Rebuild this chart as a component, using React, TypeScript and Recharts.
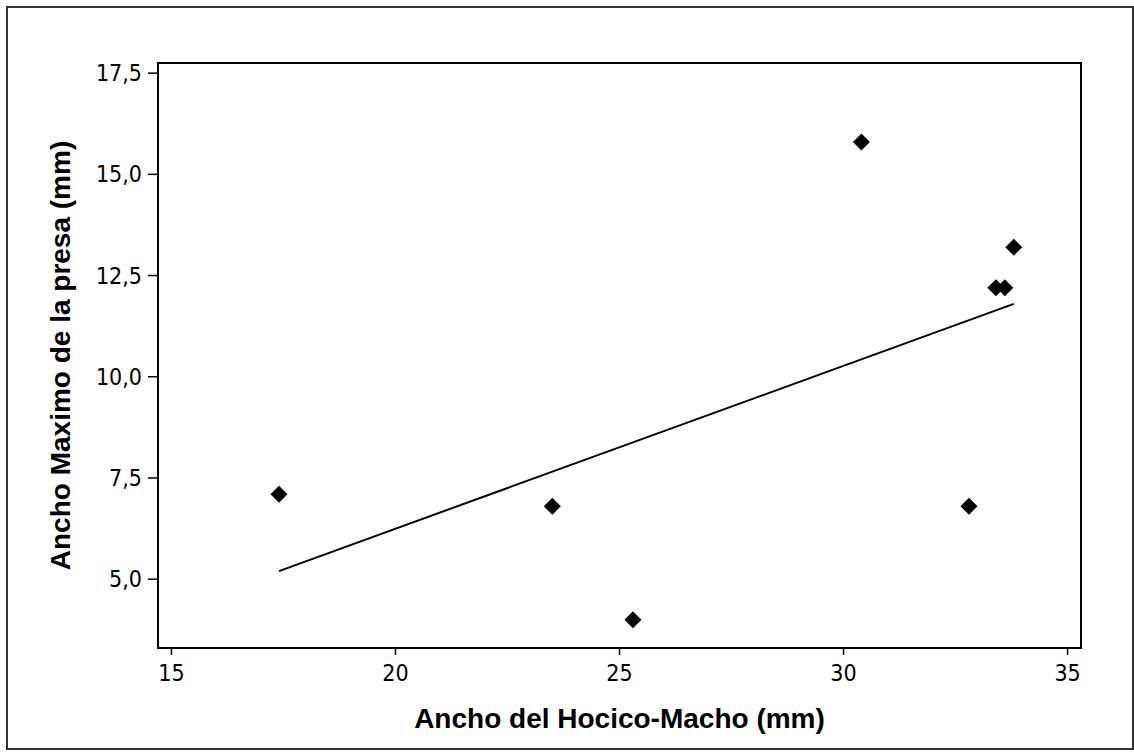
import React from "react";
import {
  ScatterChart,
  Scatter,
  XAxis,
  YAxis,
  ReferenceArea,
  Label,
} from "recharts";

// Ancho del hocico (machos) vs ancho maximo de la presa
const snoutWidth = [17.4, 23.5, 25.3, 30.4, 32.8, 33.4, 33.6, 33.8];
const preyWidth = [7.1, 6.8, 4.0, 15.8, 6.8, 12.2, 12.2, 13.2];

// fitted line, ends
const fitX = [17.4, 33.8];
const fitY = [5.2, 11.8];

const xTicks = [15, 20, 25, 30, 35];
const yTicks = [5, 7.5, 10, 12.5, 15, 17.5];
const xDomain = [14.7, 35.3];
const yDomain = [3.3, 17.75];

const points = snoutWidth.map((x, i) => ({ x, y: preyWidth[i] }));
const fitLine = fitX.map((x, i) => ({ x, y: fitY[i] }));

const tickStyle = {
  fontFamily: "'DejaVu Sans Condensed', 'DejaVu Sans', sans-serif",
  fontSize: 23,
  fill: "#000",
};

const titleStyle = {
  fontFamily: "'Liberation Sans', Arial, sans-serif",
  fontSize: 28,
  fontWeight: 700,
  fill: "#000",
};

function Diamond(props: any) {
  const { cx, cy } = props;
  const r = 8.5;
  return (
    <polygon
      points={`${cx},${cy - r} ${cx + r},${cy} ${cx},${cy + r} ${cx - r},${cy}`}
      fill="#000"
    />
  );
}

export default function App() {
  return (
    <div
      style={{
        position: "absolute",
        left: 0,
        top: 0,
        width: 1134,
        height: 755,
        background: "#fff",
      }}
    >
      <div
        style={{
          position: "absolute",
          left: 6,
          top: 6,
          width: 1124,
          height: 740,
          border: "2px solid #333",
        }}
      />
      <ScatterChart
        width={1134}
        height={755}
        margin={{ top: 63, right: 53, bottom: 7, left: 78 }}
        style={{ position: "absolute", left: 0, top: 0 }}
      >
        <XAxis
          type="number"
          dataKey="x"
          domain={xDomain}
          ticks={xTicks}
          allowDataOverflow
          height={100}
          tickSize={7}
          tickMargin={10}
          tick={tickStyle}
          axisLine={{ stroke: "#000", strokeWidth: 2 }}
          tickLine={{ stroke: "#000", strokeWidth: 1.5 }}
        >
          <Label
            value="Ancho del Hocico-Macho (mm)"
            position="center"
            dy={20}
            style={titleStyle}
          />
        </XAxis>
        <YAxis
          type="number"
          dataKey="y"
          domain={yDomain}
          ticks={yTicks}
          allowDataOverflow
          width={80}
          tickSize={10}
          tickMargin={6}
          tick={tickStyle}
          tickFormatter={(v: number) => v.toFixed(1).replace(".", ",")}
          axisLine={{ stroke: "#000", strokeWidth: 2 }}
          tickLine={{ stroke: "#000", strokeWidth: 1.5 }}
        >
          <Label
            value="Ancho Maximo de la presa (mm)"
            position="center"
            angle={-90}
            dx={-58}
            style={{ ...titleStyle, textAnchor: "middle" }}
          />
        </YAxis>
        <ReferenceArea
          x1={xDomain[0]}
          x2={xDomain[1]}
          y1={yDomain[0]}
          y2={yDomain[1]}
          fill="none"
          fillOpacity={0}
          stroke="#000"
          strokeWidth={2}
          ifOverflow="visible"
        />
        <Scatter
          data={fitLine}
          line={{ stroke: "#000", strokeWidth: 2 }}
          shape={() => <g />}
          isAnimationActive={false}
        />
        <Scatter data={points} shape={Diamond} isAnimationActive={false} />
      </ScatterChart>
    </div>
  );
}
